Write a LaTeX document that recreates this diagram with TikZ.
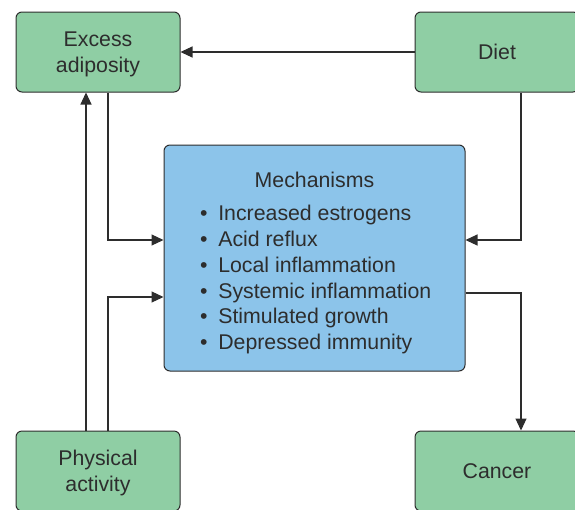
\documentclass[tikz,border=0pt]{standalone}
\usepackage{fontspec}
\setmainfont{Liberation Sans}
\usepackage{tikz}
\usetikzlibrary{arrows.meta}

\definecolor{boxgreen}{RGB}{143,206,164}
\definecolor{boxblue}{RGB}{140,196,234}
\definecolor{edgegray}{RGB}{45,45,45}

\begin{document}
\begin{tikzpicture}[x=1pt,y=-1pt]
\tikzstyle{factor} = [draw=edgegray,line width=1pt,fill=boxgreen,rounded corners=6pt,minimum width=164pt,minimum height=80pt,align=center,text=edgegray,font=\fontsize{21.3}{26}\selectfont]
\tikzstyle{twoline} = [text depth=0pt]
\tikzstyle{mechbox} = [draw=edgegray,line width=1pt,fill=boxblue,rounded corners=6pt,minimum width=301pt,minimum height=226pt]
\tikzstyle{conn} = [draw=edgegray,line width=1.1pt,-{Triangle[length=12pt,width=11pt]}]

\useasboundingbox (0,0) rectangle (575,509);

\node[factor,twoline] (adipo) at (98,52) {Excess\\adiposity};
\node[factor] (diet) at (497,52) {Diet};
\node[factor,twoline] (phys) at (98,471) {Physical\\activity};
\node[factor] (cancer) at (497,471) {Cancer};

\node[mechbox] (mech) at (314.5,258) {};
\node[text=edgegray,font=\fontsize{21.3}{26}\selectfont] (mechtitle) at (314.5,180) {Mechanisms};
\node[text=edgegray,font=\fontsize{21.3}{25.8}\selectfont,align=left,anchor=north west,inner sep=0pt] (mechlist) at (200,205)
  {\textbullet\enspace Increased estrogens\\
   \textbullet\enspace Acid reflux\\
   \textbullet\enspace Local inflammation\\
   \textbullet\enspace Systemic inflammation\\
   \textbullet\enspace Stimulated growth\\
   \textbullet\enspace Depressed immunity};

% arrows between the boxes
\draw[conn] (diet.west) -- (adipo.east);
\draw[conn] ([xshift=10pt]adipo.south) |- ([yshift=18pt]mech.west);
\draw[conn] ([xshift=-12pt]phys.north) -- ([xshift=-12pt]adipo.south);
\draw[conn] ([xshift=10pt]phys.north) |- ([yshift=-39pt]mech.west);
\draw[conn] ([xshift=24pt]diet.south) |- ([yshift=18pt]mech.east);
\draw[conn] ([yshift=-35pt]mech.east) -| ([xshift=24pt]cancer.north);

\end{tikzpicture}
\end{document}
